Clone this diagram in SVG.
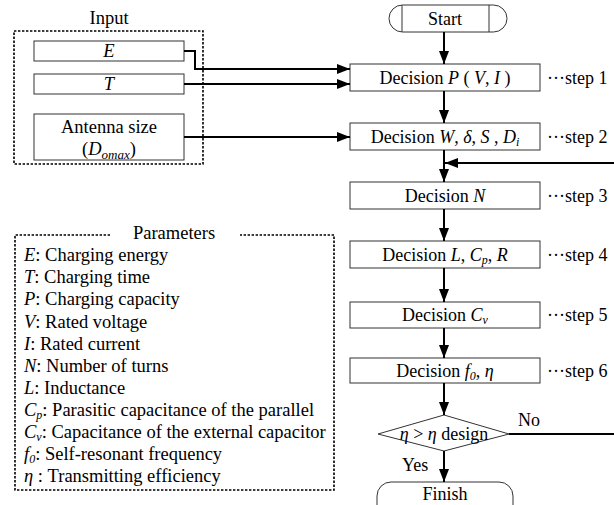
<svg xmlns="http://www.w3.org/2000/svg" width="614" height="505" viewBox="0 0 614 505">
<style>
text{font-family:'Liberation Serif','Times New Roman',serif;font-size:18px;fill:#000}
.l{font-size:18.5px}
.c{text-anchor:middle}
.i{font-style:italic}
.box{fill:#fff;stroke:#333;stroke-width:1}
.dot{fill:none;stroke:#000;stroke-width:1.6;stroke-dasharray:2.4,1.6}
.ln{fill:none;stroke:#000;stroke-width:2}
</style>
<defs>
<marker id="ah" markerUnits="userSpaceOnUse" markerWidth="13" markerHeight="10" refX="13" refY="5" orient="auto">
<path d="M0,0 L13,5 L0,10 z" fill="#000"/>
</marker>
</defs>
<g id="input-group">
<text class="c l" x="109" y="24">Input</text>
<rect class="dot" x="14" y="31" width="189" height="133"/>
</g>
<g id="input-E"><rect class="box" x="34" y="41" width="150" height="20"/><text class="c i l" x="109" y="57">E</text></g>
<g id="input-T"><rect class="box" x="34" y="74" width="150" height="20"/><text class="c i l" x="109" y="90">T</text></g>
<g id="input-antenna"><rect class="box" x="34" y="114" width="150" height="46"/>
<text class="c l" x="109" y="133">Antenna size</text>
<text class="c l" x="109" y="155">(<tspan class="i">D</tspan><tspan class="i" font-size="13" dy="4">omax</tspan><tspan dy="-4">)</tspan></text></g>
<g id="parameters">
<path class="dot" d="M110,235 H15 V490 H334 V235 H240"/>
<text class="c l" x="174" y="239">Parameters</text>
<text class="l" x="24" y="261"><tspan class="i">E</tspan>: Charging energy</text>
<text class="l" x="24" y="283"><tspan class="i">T</tspan>: Charging time</text>
<text class="l" x="24" y="305"><tspan class="i">P</tspan>: Charging capacity</text>
<text class="l" x="24" y="328"><tspan class="i">V</tspan>: Rated voltage</text>
<text class="l" x="24" y="350"><tspan class="i">I</tspan>: Rated current</text>
<text class="l" x="24" y="372"><tspan class="i">N</tspan>: Number of turns</text>
<text class="l" x="24" y="394"><tspan class="i">L</tspan>: Inductance</text>
<text class="l" x="24" y="416"><tspan class="i">C</tspan><tspan class="i" font-size="12" dy="3">p</tspan><tspan dy="-3">: Parasitic capacitance of the parallel</tspan></text>
<text class="l" x="24" y="438"><tspan class="i">C</tspan><tspan class="i" font-size="12" dy="3">v</tspan><tspan dy="-3">: Capacitance of the external capacitor</tspan></text>
<text class="l" x="24" y="460"><tspan class="i">f</tspan><tspan class="i" font-size="12" dy="3">0</tspan><tspan dy="-3">: Self-resonant frequency</tspan></text>
<text class="l" x="24" y="482"><tspan class="i">η</tspan> : Transmitting efficiency</text>
</g>
<g id="start"><rect class="box" x="389" y="5" width="118" height="27" rx="13.5"/><path class="box" d="M402,5 V32 M489,5 V32"/><text class="c" x="445" y="25">Start</text></g>
<g id="step1"><rect class="box" x="350" y="64" width="190" height="27"/><text class="c" x="445" y="84">Decision <tspan class="i">P</tspan> ( <tspan class="i">V</tspan>, <tspan class="i">I</tspan> )</text><text x="547" y="84">···step 1</text></g>
<g id="step2"><rect class="box" x="350" y="123" width="190" height="27"/><text class="c" x="445" y="143">Decision <tspan class="i">W</tspan>, <tspan class="i">δ</tspan>, <tspan class="i">S</tspan> , <tspan class="i">D</tspan><tspan class="i" font-size="12" dy="3">i</tspan></text><text x="547" y="143">···step 2</text></g>
<g id="step3"><rect class="box" x="350" y="182" width="190" height="27"/><text class="c" x="445" y="202">Decision <tspan class="i">N</tspan></text><text x="547" y="202">···step 3</text></g>
<g id="step4"><rect class="box" x="350" y="241" width="190" height="27"/><text class="c" x="445" y="261">Decision <tspan class="i">L</tspan>, <tspan class="i">C</tspan><tspan class="i" font-size="12" dy="3">p</tspan><tspan dy="-3">, </tspan><tspan class="i">R</tspan></text><text x="547" y="261">···step 4</text></g>
<g id="step5"><rect class="box" x="350" y="302" width="190" height="26"/><text class="c" x="445" y="321">Decision <tspan class="i">C</tspan><tspan class="i" font-size="12" dy="3">v</tspan></text><text x="547" y="321">···step 5</text></g>
<g id="step6"><rect class="box" x="350" y="358" width="190" height="25"/><text class="c" x="445" y="377">Decision <tspan class="i">f</tspan><tspan class="i" font-size="12" dy="3">0</tspan><tspan dy="-3">,  </tspan><tspan class="i">η</tspan></text><text x="547" y="377">···step 6</text></g>
<g id="check"><path class="box" d="M378,434 L444,415 L509,434 L444,451 z"/><text class="c" x="444" y="440"><tspan class="i">η</tspan> &gt; <tspan class="i">η</tspan> design</text></g>
<g id="finish"><rect class="box" x="377" y="482" width="136" height="40" rx="14"/><text class="c" x="445" y="500">Finish</text></g>
<g id="connectors">
<path class="ln" d="M184,51 H195 V69 H350" marker-end="url(#ah)"/>
<path class="ln" d="M184,84 H350" marker-end="url(#ah)"/>
<path class="ln" d="M184,137 H350" marker-end="url(#ah)"/>
<path class="ln" d="M444,32 V64" marker-end="url(#ah)"/>
<path class="ln" d="M444,91 V123" marker-end="url(#ah)"/>
<path class="ln" d="M444,150 V182" marker-end="url(#ah)"/>
<path class="ln" d="M614,163 H445" marker-end="url(#ah)"/>
<path class="ln" d="M444,209 V241" marker-end="url(#ah)"/>
<path class="ln" d="M444,268 V302" marker-end="url(#ah)"/>
<path class="ln" d="M444,328 V358" marker-end="url(#ah)"/>
<path class="ln" d="M444,383 V415" marker-end="url(#ah)"/>
<path class="ln" d="M444,451 V482" marker-end="url(#ah)"/>
<path class="ln" d="M509,434 H614"/>
<text x="518" y="426">No</text>
<text x="402" y="471">Yes</text>
</g>
</svg>
